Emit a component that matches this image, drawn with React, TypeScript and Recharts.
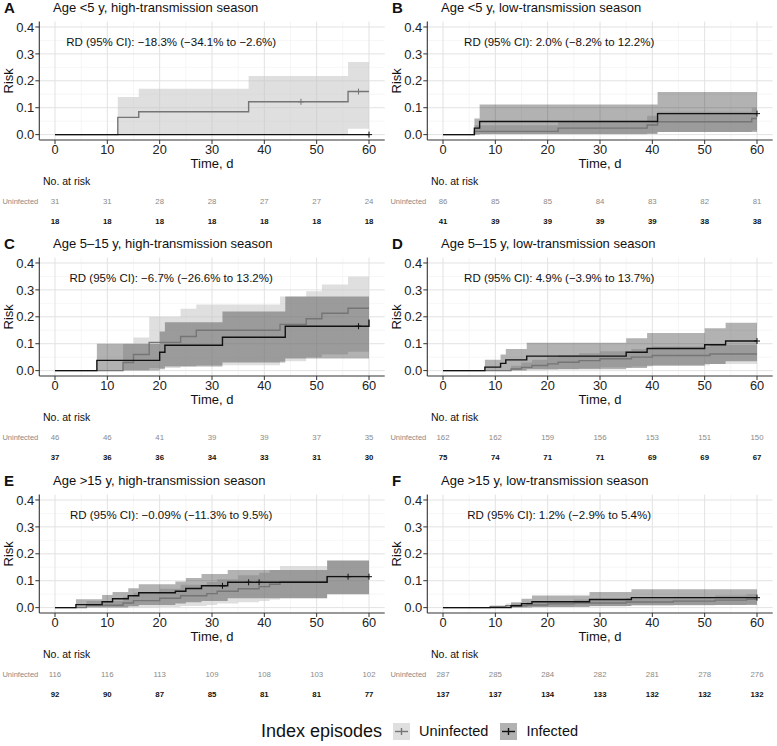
import React from "react";
import {
  ComposedChart,
  ScatterChart,
  Area,
  Line,
  Scatter,
  XAxis,
  YAxis,
  CartesianGrid,
  ReferenceDot,
} from "recharts";

const FONT = '"Liberation Sans", Arial, Helvetica, sans-serif';

const TIME_TICKS = [0, 10, 20, 30, 40, 50, 60];
const MINOR_TIME = [5, 15, 25, 35, 45, 55];
const RISK_TICKS = [0, 0.1, 0.2, 0.3, 0.4];
const MINOR_RISK = [0.05, 0.15, 0.25, 0.35];
const GROUPS = ["Uninfected", "Infected"];

const UNINF_LINE = "#757575";
const INF_LINE = "#111111";
const UNINF_FILL = "#c4c4c4";
const UNINF_ALPHA = 0.55;
const INF_FILL = "#000000";
const INF_ALPHA = 0.3;

// [time, risk] steps, [time, lower, upper] bands, [time, risk] censor marks
const A_UNINF = [[0, 0], [12, 0.064], [16, 0.085], [37, 0.122], [56, 0.16], [60, 0.16]];
const A_UNINF_CI = [[12, 0, 0.14], [16, 0, 0.17], [37, 0, 0.218], [56, 0.022, 0.27], [60, 0.022, 0.27]];
const A_INF = [[0, 0], [60, 0]];
const A_INF_CI: number[][] = [];
const A_UNINF_CENS = [[47, 0.122], [58, 0.16]];
const A_INF_CENS = [[60, 0]];
const A_RISK_UNINF = [31, 31, 28, 28, 27, 27, 24];
const A_RISK_INF = [18, 18, 18, 18, 18, 18, 18];

const B_UNINF = [[0, 0], [6, 0.012], [22, 0.024], [39, 0.036], [41, 0.048], [59, 0.06], [60, 0.06]];
const B_UNINF_CI = [[6, 0, 0.035], [22, 0, 0.05], [39, 0.005, 0.07], [41, 0.01, 0.085], [59, 0.015, 0.1], [60, 0.015, 0.1]];
const B_INF = [[0, 0], [6, 0.024], [7, 0.049], [41, 0.078], [60, 0.078]];
const B_INF_CI = [[6, 0, 0.06], [7, 0.002, 0.112], [41, 0.01, 0.158], [60, 0.01, 0.158]];
const B_UNINF_CENS: number[][] = [];
const B_INF_CENS = [[60, 0.078]];
const B_RISK_UNINF = [86, 85, 85, 84, 83, 82, 81];
const B_RISK_INF = [41, 39, 39, 39, 39, 38, 38];

const C_UNINF = [[0, 0], [13, 0.03], [15, 0.06], [18, 0.105], [24, 0.127], [27, 0.15], [43, 0.172], [48, 0.193], [51, 0.213], [56, 0.232], [60, 0.232]];
const C_UNINF_CI = [[13, 0, 0.1], [15, 0, 0.123], [18, 0.01, 0.2], [24, 0.015, 0.23], [27, 0.02, 0.246], [43, 0.035, 0.275], [48, 0.05, 0.295], [51, 0.06, 0.32], [56, 0.07, 0.35], [60, 0.07, 0.35]];
const C_INF = [[0, 0], [8, 0.038], [20, 0.068], [21, 0.094], [32, 0.124], [44, 0.165], [60, 0.165], [60, 0.19]];
const C_INF_CI = [[8, 0, 0.1], [20, 0.005, 0.145], [21, 0.015, 0.18], [32, 0.03, 0.22], [44, 0.045, 0.275], [60, 0.045, 0.275]];
const C_UNINF_CENS: number[][] = [];
const C_INF_CENS = [[58, 0.165]];
const C_RISK_UNINF = [46, 46, 41, 39, 39, 37, 35];
const C_RISK_INF = [37, 36, 36, 34, 33, 31, 30];

const D_UNINF = [[0, 0], [13, 0.006], [15, 0.012], [17, 0.019], [20, 0.025], [22, 0.031], [26, 0.037], [30, 0.044], [36, 0.05], [40, 0.056], [51, 0.062], [60, 0.062]];
const D_UNINF_CI = [[13, 0, 0.018], [15, 0, 0.03], [17, 0, 0.04], [20, 0.002, 0.05], [22, 0.005, 0.058], [26, 0.008, 0.065], [30, 0.012, 0.072], [36, 0.015, 0.08], [40, 0.02, 0.09], [51, 0.025, 0.095], [60, 0.025, 0.095]];
const D_INF = [[0, 0], [8, 0.013], [11, 0.027], [12, 0.04], [16, 0.054], [35, 0.068], [39, 0.082], [50, 0.096], [54, 0.11], [60, 0.11]];
const D_INF_CI = [[8, 0, 0.04], [11, 0, 0.06], [12, 0, 0.08], [16, 0.005, 0.104], [35, 0.01, 0.12], [39, 0.018, 0.14], [50, 0.025, 0.157], [54, 0.035, 0.178], [60, 0.035, 0.178]];
const D_UNINF_CENS: number[][] = [];
const D_INF_CENS = [[60, 0.11]];
const D_RISK_UNINF = [162, 162, 159, 156, 153, 151, 150];
const D_RISK_INF = [75, 74, 71, 71, 69, 69, 67];

const E_UNINF = [[0, 0], [6, 0.009], [13, 0.017], [15, 0.026], [20, 0.035], [24, 0.044], [29, 0.052], [31, 0.061], [35, 0.07], [39, 0.078], [41, 0.087], [43, 0.096], [52, 0.116], [60, 0.116]];
const E_UNINF_CI = [[6, 0, 0.025], [13, 0, 0.04], [15, 0, 0.055], [20, 0.002, 0.07], [24, 0.006, 0.085], [29, 0.01, 0.095], [31, 0.015, 0.105], [35, 0.02, 0.12], [39, 0.025, 0.13], [41, 0.03, 0.14], [43, 0.035, 0.155], [52, 0.05, 0.175], [60, 0.05, 0.175]];
const E_INF = [[0, 0], [4, 0.011], [9, 0.022], [11, 0.033], [14, 0.044], [16, 0.055], [23, 0.061], [25, 0.071], [28, 0.081], [33, 0.094], [52, 0.115], [60, 0.115]];
const E_INF_CI = [[4, 0, 0.031], [9, 0, 0.047], [11, 0, 0.058], [14, 0.005, 0.072], [16, 0.01, 0.087], [23, 0.015, 0.097], [25, 0.02, 0.11], [28, 0.025, 0.125], [33, 0.035, 0.14], [52, 0.05, 0.175], [60, 0.05, 0.175]];
const E_UNINF_CENS: number[][] = [];
const E_INF_CENS = [[32, 0.081], [37, 0.094], [39, 0.094], [56, 0.115], [60, 0.115]];
const E_RISK_UNINF = [116, 116, 113, 109, 108, 103, 102];
const E_RISK_INF = [92, 90, 87, 85, 81, 81, 77];

const F_UNINF = [[0, 0], [9, 0.0035], [12, 0.007], [16, 0.01], [20, 0.014], [25, 0.017], [35, 0.021], [44, 0.024], [52, 0.028], [58, 0.031], [60, 0.031]];
const F_UNINF_CI = [[9, 0, 0.01], [12, 0, 0.015], [16, 0, 0.02], [20, 0.002, 0.025], [25, 0.004, 0.03], [35, 0.006, 0.035], [44, 0.008, 0.04], [52, 0.01, 0.045], [58, 0.012, 0.05], [60, 0.012, 0.05]];
const F_INF = [[0, 0], [13, 0.007], [15, 0.015], [17, 0.022], [28, 0.03], [36, 0.037], [60, 0.037]];
const F_INF_CI = [[13, 0, 0.02], [15, 0, 0.033], [17, 0.002, 0.045], [28, 0.006, 0.058], [36, 0.01, 0.068], [60, 0.01, 0.068]];
const F_UNINF_CENS: number[][] = [];
const F_INF_CENS = [[60, 0.037]];
const F_RISK_UNINF = [287, 285, 284, 282, 281, 278, 276];
const F_RISK_INF = [137, 137, 134, 133, 132, 132, 132];

const PANELS = [
  { id: "A", col: 0, row: 0, title: "Age <5 y, high-transmission season", rd: "RD (95% CI): \u221218.3% (\u221234.1% to \u22122.6%)",
    u: A_UNINF, uCi: A_UNINF_CI, i: A_INF, iCi: A_INF_CI, uCens: A_UNINF_CENS, iCens: A_INF_CENS, uRisk: A_RISK_UNINF, iRisk: A_RISK_INF },
  { id: "B", col: 1, row: 0, title: "Age <5 y, low-transmission season", rd: "RD (95% CI): 2.0% (\u22128.2% to 12.2%)",
    u: B_UNINF, uCi: B_UNINF_CI, i: B_INF, iCi: B_INF_CI, uCens: B_UNINF_CENS, iCens: B_INF_CENS, uRisk: B_RISK_UNINF, iRisk: B_RISK_INF },
  { id: "C", col: 0, row: 1, title: "Age 5\u201315 y, high-transmission season", rd: "RD (95% CI): \u22126.7% (\u221226.6% to 13.2%)",
    u: C_UNINF, uCi: C_UNINF_CI, i: C_INF, iCi: C_INF_CI, uCens: C_UNINF_CENS, iCens: C_INF_CENS, uRisk: C_RISK_UNINF, iRisk: C_RISK_INF },
  { id: "D", col: 1, row: 1, title: "Age 5\u201315 y, low-transmission season", rd: "RD (95% CI): 4.9% (\u22123.9% to 13.7%)",
    u: D_UNINF, uCi: D_UNINF_CI, i: D_INF, iCi: D_INF_CI, uCens: D_UNINF_CENS, iCens: D_INF_CENS, uRisk: D_RISK_UNINF, iRisk: D_RISK_INF },
  { id: "E", col: 0, row: 2, title: "Age >15 y, high-transmission season", rd: "RD (95% CI): \u22120.09% (\u221211.3% to 9.5%)",
    u: E_UNINF, uCi: E_UNINF_CI, i: E_INF, iCi: E_INF_CI, uCens: E_UNINF_CENS, iCens: E_INF_CENS, uRisk: E_RISK_UNINF, iRisk: E_RISK_INF },
  { id: "F", col: 1, row: 2, title: "Age >15 y, low-transmission season", rd: "RD (95% CI): 1.2% (\u22122.9% to 5.4%)",
    u: F_UNINF, uCi: F_UNINF_CI, i: F_INF, iCi: F_INF_CI, uCens: F_UNINF_CENS, iCens: F_INF_CENS, uRisk: F_RISK_UNINF, iRisk: F_RISK_INF },
];

const COL_LEFT = [0, 388];
const ROW_TOP = [0, 236, 473];

const CHART_W = 388;
const CHART_H = 172;
const PLOT_MARGIN = { top: 21.6, right: 3.3, bottom: 0, left: 0 };
const AXIS_W = 39.3;
const AXIS_H = 32;
const TIME_DOMAIN = [-3, 63];
const RISK_DOMAIN = [-0.02, 0.42];

const toSteps = (rows: number[][], key: string) => rows.map(([t, r]) => ({ t, [key]: r }));
const toBand = (rows: number[][], key: string) => rows.map(([t, lo, hi]) => ({ t, [key]: [lo, hi] }));

// eslint-disable-next-line @typescript-eslint/no-explicit-any
function TimeTitle(props: any) {
  const { x, y, width } = props.viewBox;
  return (
    <text x={x + width / 2} y={y + 23} textAnchor="middle" dominantBaseline="central" fontSize={13} fill="#111">
      Time, d
    </text>
  );
}

// eslint-disable-next-line @typescript-eslint/no-explicit-any
function RiskTitle(props: any) {
  const { x, y, height } = props.viewBox;
  const cx = x + 9;
  const cy = y + height / 2;
  return (
    <text x={cx} y={cy} transform={`rotate(-90 ${cx} ${cy})`} textAnchor="middle" dominantBaseline="central" fontSize={13} fill="#111">
      Risk
    </text>
  );
}

// eslint-disable-next-line @typescript-eslint/no-explicit-any
function CensorMark(props: any) {
  const { cx, cy, color } = props;
  if (cx == null || cy == null) return null;
  return (
    <g>
      <line x1={cx} x2={cx} y1={cy - 3} y2={cy + 3} stroke={color} strokeWidth={1} />
      <line x1={cx - 3} x2={cx + 3} y1={cy} y2={cy} stroke={color} strokeWidth={1} />
    </g>
  );
}

// eslint-disable-next-line @typescript-eslint/no-explicit-any
function CountMark(props: any) {
  const { cx, cy, payload, group } = props;
  const inf = group === "Infected";
  return (
    <text x={cx} y={cy} textAnchor="middle" dominantBaseline="central" fontSize={7.8}
      fill={inf ? "#111" : "#8a8a8a"} fontWeight={inf ? 700 : 400}>
      {payload.n}
    </text>
  );
}

// eslint-disable-next-line @typescript-eslint/no-explicit-any
function RowTick(props: any) {
  const { x, y, payload } = props;
  const label = GROUPS[1 - payload.value];
  const inf = label === "Infected";
  return (
    <text x={x} y={y} textAnchor="end" dominantBaseline="central" fontSize={inf ? 7.2 : 7.5}
      fill={inf ? "#111" : "#8a8a8a"} fontWeight={inf ? 700 : 400}>
      {label}
    </text>
  );
}

// eslint-disable-next-line @typescript-eslint/no-explicit-any
function Panel({ p }: { p: any }) {
  const left = COL_LEFT[p.col];
  const top = ROW_TOP[p.row];
  const uRows = TIME_TICKS.map((t, k) => ({ t, row: 1, n: p.uRisk[k] }));
  const iRows = TIME_TICKS.map((t, k) => ({ t, row: 0, n: p.iRisk[k] }));

  return (
    <div style={{ position: "absolute", left, top, width: 388, height: 236 }}>
      <div style={{ position: "absolute", left: 4, top: -0.5, fontSize: 15, lineHeight: "15px", fontWeight: 700, color: "#111" }}>
        {p.id}
      </div>
      <div style={{ position: "absolute", left: 53, top: 0.5, fontSize: 13, lineHeight: "13px", color: "#111", whiteSpace: "nowrap" }}>
        {p.title}
      </div>

      {/* grid, axes and confidence bands */}
      <div style={{ position: "absolute", left: 0, top: 0 }}>
        <ComposedChart width={CHART_W} height={CHART_H} margin={PLOT_MARGIN}>
          <CartesianGrid verticalValues={MINOR_TIME} horizontalValues={MINOR_RISK} stroke="#f0f0f0" strokeWidth={0.6} />
          <CartesianGrid verticalValues={TIME_TICKS} horizontalValues={RISK_TICKS} stroke="#e2e2e2" strokeWidth={1} />
          <XAxis
            dataKey="t"
            type="number"
            domain={TIME_DOMAIN}
            ticks={TIME_TICKS}
            allowDataOverflow
            height={AXIS_H}
            tickSize={4}
            tickMargin={0.5}
            tick={{ fontSize: 12.8, fill: "#222" }}
            axisLine={{ stroke: "#333", strokeWidth: 1.1 }}
            tickLine={{ stroke: "#333" }}
            label={<TimeTitle />}
          />
          <YAxis
            type="number"
            domain={RISK_DOMAIN}
            ticks={RISK_TICKS}
            allowDataOverflow
            width={AXIS_W}
            tickSize={4}
            tickMargin={1}
            tickFormatter={(v: number) => v.toFixed(1)}
            tick={{ fontSize: 13, fill: "#222" }}
            axisLine={{ stroke: "#333", strokeWidth: 1.1 }}
            tickLine={{ stroke: "#333" }}
            label={<RiskTitle />}
          />
          {p.uCi.length > 0 && (
            <Area data={toBand(p.uCi, "uci")} dataKey="uci" type="stepAfter" stroke="none"
              fill={UNINF_FILL} fillOpacity={UNINF_ALPHA} isAnimationActive={false} />
          )}
          {p.iCi.length > 0 && (
            <Area data={toBand(p.iCi, "ici")} dataKey="ici" type="stepAfter" stroke="none"
              fill={INF_FILL} fillOpacity={INF_ALPHA} isAnimationActive={false} />
          )}
          <ReferenceDot x={22.2} y={0.345} r={0} fill="none" stroke="none"
            label={{ value: p.rd, position: "center", fontSize: 11.5, fill: "#111" }} />
        </ComposedChart>
      </div>

      {/* step curves and censor marks, same plot box, drawn on top */}
      <div style={{ position: "absolute", left: 0, top: 0, pointerEvents: "none" }}>
        <ComposedChart width={CHART_W} height={CHART_H}
          margin={{ top: PLOT_MARGIN.top, right: PLOT_MARGIN.right, bottom: AXIS_H, left: AXIS_W }}>
          <XAxis dataKey="t" type="number" domain={TIME_DOMAIN} allowDataOverflow hide />
          <YAxis type="number" domain={RISK_DOMAIN} allowDataOverflow hide />
          <Line data={toSteps(p.u, "ur")} dataKey="ur" type="stepAfter" stroke={UNINF_LINE}
            strokeWidth={1.4} dot={false} activeDot={false} isAnimationActive={false} />
          <Line data={toSteps(p.i, "ir")} dataKey="ir" type="stepAfter" stroke={INF_LINE}
            strokeWidth={1.4} dot={false} activeDot={false} isAnimationActive={false} />
          {p.uCens.length > 0 && (
            <Scatter data={toSteps(p.uCens, "uc")} dataKey="uc" shape={(s: any) => <CensorMark {...s} color={UNINF_LINE} />} isAnimationActive={false} />
          )}
          {p.iCens.length > 0 && (
            <Scatter data={toSteps(p.iCens, "ic")} dataKey="ic" shape={(s: any) => <CensorMark {...s} color={INF_LINE} />} isAnimationActive={false} />
          )}
        </ComposedChart>
      </div>

      <div style={{ position: "absolute", left: 43, top: 175, fontSize: 10.5, lineHeight: "12px", color: "#111" }}>
        No. at risk
      </div>

      <div style={{ position: "absolute", left: 0, top: 191.75 }}>
        <ScatterChart width={CHART_W} height={39} margin={{ top: 0, right: PLOT_MARGIN.right, bottom: 0, left: 0 }}>
          <XAxis dataKey="t" type="number" domain={TIME_DOMAIN} hide />
          <YAxis dataKey="row" type="number" domain={[-0.5, 1.5]} ticks={[0, 1]} width={AXIS_W}
            axisLine={false} tickLine={false} tickSize={0} tickMargin={1} tick={<RowTick />} />
          <Scatter data={uRows} dataKey="row" shape={(s: any) => <CountMark {...s} group="Uninfected" />} isAnimationActive={false} />
          <Scatter data={iRows} dataKey="row" shape={(s: any) => <CountMark {...s} group="Infected" />} isAnimationActive={false} />
        </ScatterChart>
      </div>
    </div>
  );
}

function LegendKey({ fill, fillOpacity, line }: { fill: string; fillOpacity: number; line: string }) {
  return (
    <svg width={17} height={17} style={{ display: "block" }}>
      <rect x={0} y={0} width={17} height={17} fill={fill} fillOpacity={fillOpacity} />
      <line x1={2} x2={15} y1={8.5} y2={8.5} stroke={line} strokeWidth={1.4} />
      <line x1={8.5} x2={8.5} y1={5} y2={12} stroke={line} strokeWidth={1.4} />
    </svg>
  );
}

export default function App() {
  return (
    <div style={{ position: "absolute", left: 0, top: 0, width: 777, height: 746, background: "#fff", fontFamily: FONT, overflow: "hidden" }}>
      {PANELS.map((p) => (
        <Panel key={p.id} p={p} />
      ))}
      <div style={{ position: "absolute", left: 261, top: 720, height: 22, display: "flex", alignItems: "center", color: "#111" }}>
        <span style={{ fontSize: 18, marginRight: 11 }}>Index episodes</span>
        <LegendKey fill={UNINF_FILL} fillOpacity={UNINF_ALPHA} line={UNINF_LINE} />
        <span style={{ fontSize: 14.5, marginLeft: 9, marginRight: 12 }}>{GROUPS[0]}</span>
        <LegendKey fill={INF_FILL} fillOpacity={INF_ALPHA} line={INF_LINE} />
        <span style={{ fontSize: 14.5, marginLeft: 9 }}>{GROUPS[1]}</span>
      </div>
    </div>
  );
}
